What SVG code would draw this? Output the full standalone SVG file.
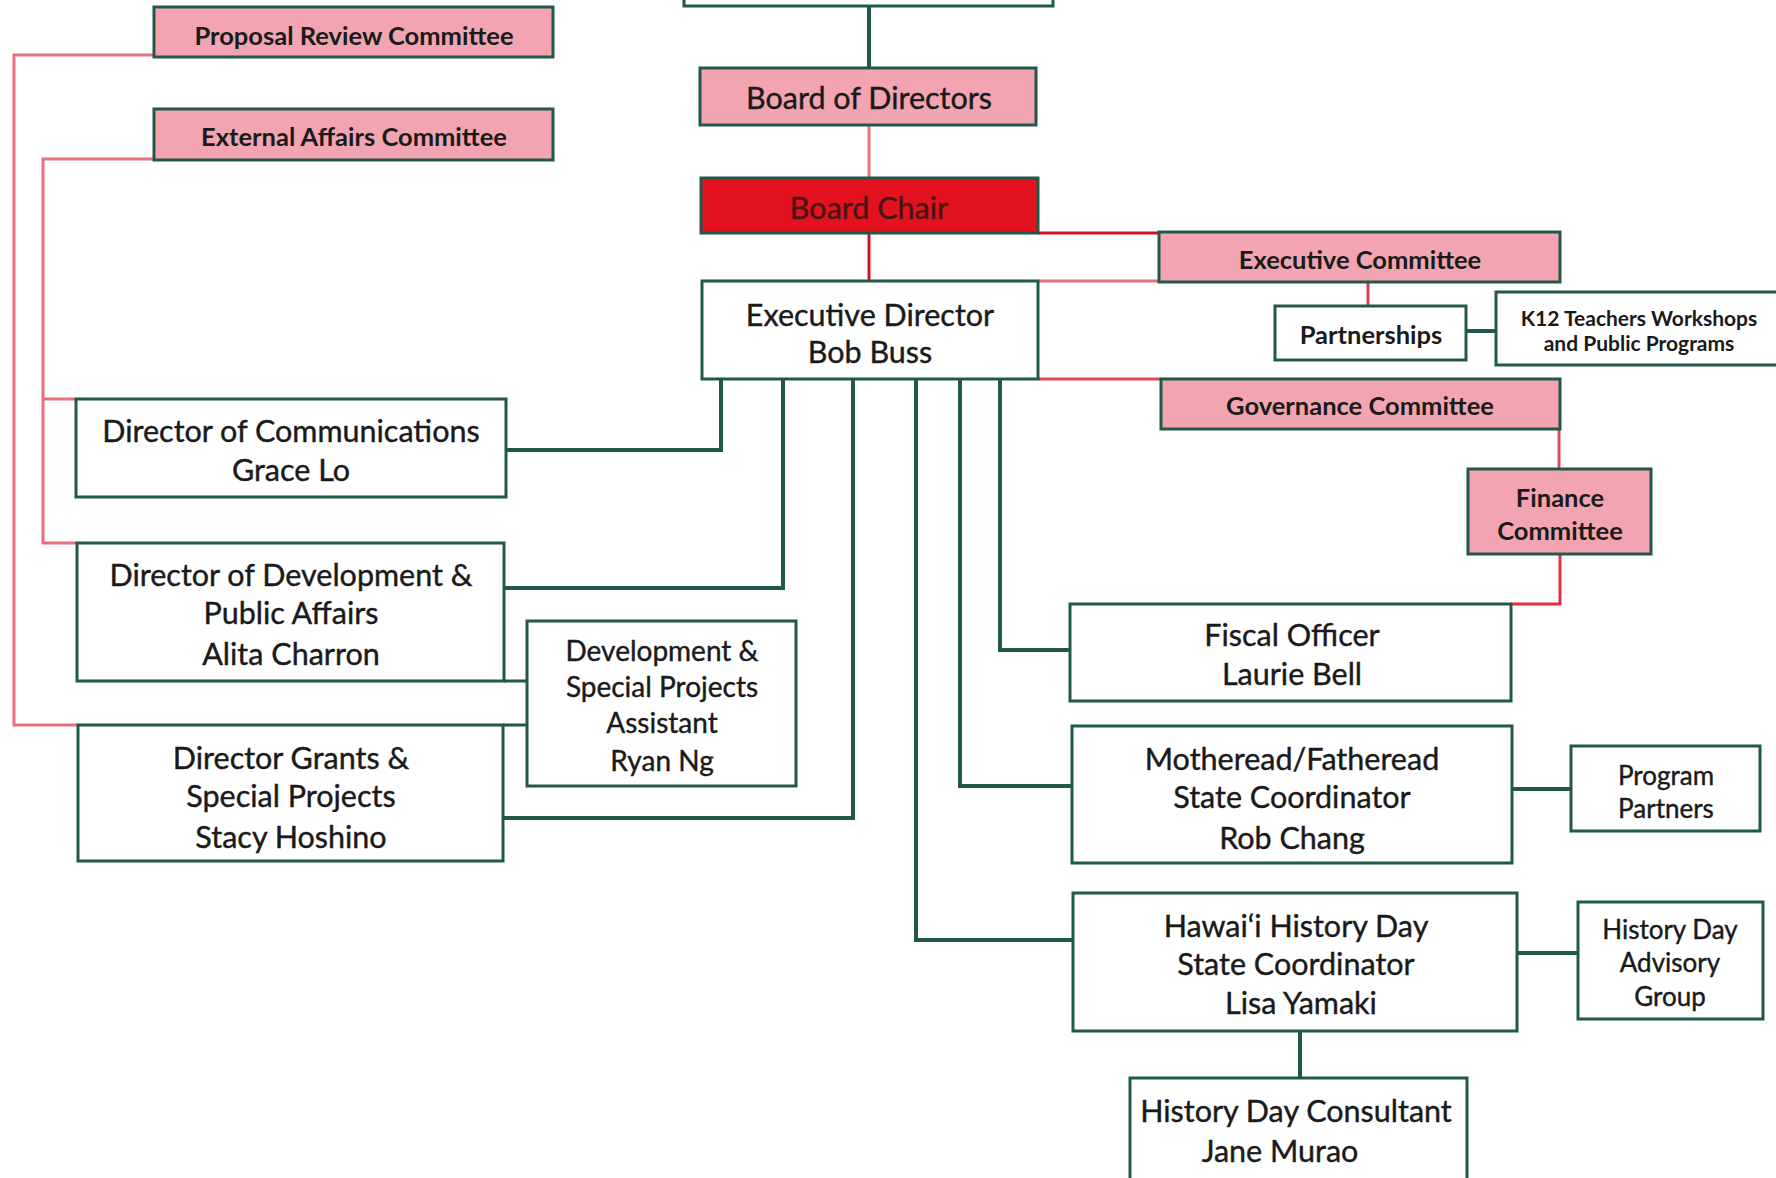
<svg xmlns="http://www.w3.org/2000/svg" width="1776" height="1178" viewBox="0 0 1776 1178">
<style>
.box{fill:#ffffff;stroke:#22584a;stroke-width:3}
.pink{fill:#f2a5b1;stroke:#22584a;stroke-width:3}
.chair{fill:#e2121f;stroke:#22584a;stroke-width:3}
.t{font-family:Lato,"Liberation Sans",sans-serif;font-size:30.5px;fill:#1a1a1a;stroke:#1a1a1a;stroke-width:0.4;text-anchor:middle;dominant-baseline:central}
.tb{font-family:Lato,"Liberation Sans",sans-serif;font-size:25.5px;font-weight:bold;fill:#1a1a1a;text-anchor:middle;dominant-baseline:central}
.ts{font-family:Lato,"Liberation Sans",sans-serif;font-size:26px;fill:#1a1a1a;stroke:#1a1a1a;stroke-width:0.4;text-anchor:middle;dominant-baseline:central}
.g{fill:none;stroke:#22584a;stroke-width:4}
.r{fill:none;stroke:#e0303f;stroke-width:3}
.rl{fill:none;stroke:#e8707e;stroke-width:3}
</style>
<rect width="1776" height="1178" fill="#ffffff"/>
<g id="connectors">
<path class="g" d="M869 6 V68"/>
<path class="rl" d="M869 125 V178"/>
<path class="r" d="M869 233 V281" style="stroke:#d8101e"/>
<path class="r" d="M1038 233 H1159" style="stroke:#d0101e"/>
<path class="rl" d="M1038 281 H1159"/>
<path class="r" d="M1038 379 H1161" style="stroke:#e04858"/>
<path class="r" d="M1368 282 V306" style="stroke:#d84050"/>
<path class="g" d="M1466 331 H1496"/>
<path class="r" d="M1559 429 V469" style="stroke:#e04858"/>
<path class="r" d="M1560 554 V604 H1511" style="stroke:#e03040"/>
<path class="rl" d="M154 55 H14 V725 H78"/>
<path class="rl" d="M154 159 H43 V543 H77 M43 399 H76"/>
<path class="g" d="M721 379 V450 H506"/>
<path class="g" d="M783 379 V588 H504"/>
<path class="g" d="M853 379 V818 H503"/>
<path class="g" d="M916 379 V940 H1073"/>
<path class="g" d="M960 379 V786 H1072"/>
<path class="g" d="M1000 379 V650 H1070"/>
<path class="g" d="M1512 789 H1571"/>
<path class="g" d="M1517 953 H1578"/>
<path class="g" d="M1300 1031 V1078"/>
<path class="g" d="M504 681 H527 M503 725 H527" style="stroke-width:3"/>
</g>
<g id="top-box"><rect class="box" x="684" y="-20" width="369" height="26"/></g>
<g id="board-of-directors"><rect class="pink" x="700" y="68" width="336" height="57"/><text class="t" x="869" y="97">Board of Directors</text></g>
<g id="board-chair"><rect class="chair" x="701" y="178" width="337" height="55"/><text class="t" x="869" y="207" style="fill:#4a1414;stroke:#4a1414">Board Chair</text></g>
<g id="executive-director"><rect class="box" x="702" y="281" width="336" height="98"/><text class="t" x="870" y="314">Executive Director</text><text class="t" x="870" y="351">Bob Buss</text></g>
<g id="executive-committee"><rect class="pink" x="1159" y="232" width="401" height="50"/><text class="tb" x="1360" y="259">Executive Committee</text></g>
<g id="partnerships"><rect class="box" x="1275" y="306" width="191" height="54"/><text class="tb" x="1371" y="334">Partnerships</text></g>
<g id="k12"><rect class="box" x="1496" y="292" width="300" height="73"/><text class="tb" x="1639" y="317" style="font-size:21px">K12 Teachers Workshops</text><text class="tb" x="1639" y="342" style="font-size:21px">and Public Programs</text></g>
<g id="governance-committee"><rect class="pink" x="1161" y="379" width="399" height="50"/><text class="tb" x="1360" y="405">Governance Committee</text></g>
<g id="finance-committee"><rect class="pink" x="1468" y="469" width="183" height="85"/><text class="tb" x="1560" y="497">Finance</text><text class="tb" x="1560" y="530">Committee</text></g>
<g id="proposal-review-committee"><rect class="pink" x="154" y="7" width="399" height="50"/><text class="tb" x="354" y="35">Proposal Review Committee</text></g>
<g id="external-affairs-committee"><rect class="pink" x="154" y="109" width="399" height="51"/><text class="tb" x="354" y="136">External Affairs Committee</text></g>
<g id="director-communications"><rect class="box" x="76" y="399" width="430" height="98"/><text class="t" x="291" y="430">Director of Communications</text><text class="t" x="291" y="469">Grace Lo</text></g>
<g id="director-development"><rect class="box" x="77" y="543" width="427" height="138"/><text class="t" x="291" y="574">Director of Development &amp;</text><text class="t" x="291" y="612">Public Affairs</text><text class="t" x="291" y="653">Alita Charron</text></g>
<g id="dev-assistant"><rect class="box" x="527" y="621" width="269" height="165"/><text class="ts" x="662" y="650" style="font-size:28px">Development &amp;</text><text class="ts" x="662" y="686" style="font-size:28px">Special Projects</text><text class="ts" x="662" y="722" style="font-size:28px">Assistant</text><text class="ts" x="662" y="760" style="font-size:28px">Ryan Ng</text></g>
<g id="director-grants"><rect class="box" x="78" y="725" width="425" height="136"/><text class="t" x="291" y="757">Director Grants &amp;</text><text class="t" x="291" y="795">Special Projects</text><text class="t" x="291" y="836">Stacy Hoshino</text></g>
<g id="fiscal-officer"><rect class="box" x="1070" y="604" width="441" height="97"/><text class="t" x="1292" y="634">Fiscal Officer</text><text class="t" x="1292" y="673">Laurie Bell</text></g>
<g id="motheread"><rect class="box" x="1072" y="726" width="440" height="137"/><text class="t" x="1292" y="758">Motheread/Fatheread</text><text class="t" x="1292" y="796">State Coordinator</text><text class="t" x="1292" y="837">Rob Chang</text></g>
<g id="program-partners"><rect class="box" x="1571" y="746" width="189" height="85"/><text class="ts" x="1666" y="775">Program</text><text class="ts" x="1666" y="808">Partners</text></g>
<g id="hawaii-history-day"><rect class="box" x="1073" y="893" width="444" height="138"/><text class="t" x="1296" y="925">Hawai‘i History Day</text><text class="t" x="1296" y="963">State Coordinator</text><text class="t" x="1301" y="1002">Lisa Yamaki</text></g>
<g id="history-day-advisory"><rect class="box" x="1578" y="902" width="185" height="117"/><text class="ts" x="1670" y="929">History Day</text><text class="ts" x="1670" y="962">Advisory</text><text class="ts" x="1670" y="996">Group</text></g>
<g id="history-day-consultant"><rect class="box" x="1130" y="1078" width="337" height="120"/><text class="t" x="1296" y="1110">History Day Consultant</text><text class="t" x="1280" y="1150">Jane Murao</text></g>
</svg>
